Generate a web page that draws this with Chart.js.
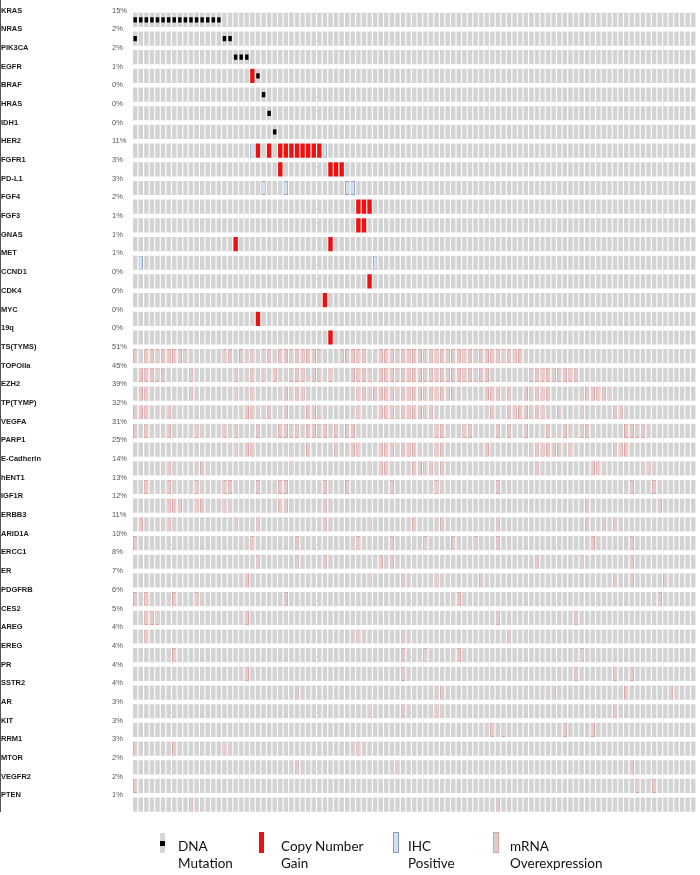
<!DOCTYPE html>
<html><head><meta charset="utf-8">
<script src="https://cdn.jsdelivr.net/npm/chart.js@4.4.0/dist/chart.umd.min.js"></script>
<style>
html,body{margin:0;padding:0;background:#fff;}
#wrap{position:relative;width:700px;height:875px;overflow:hidden;}
#c{position:absolute;left:0;top:0;}
.leg{position:absolute;font-family:Lato,'Open Sans',sans-serif;font-size:13.5px;line-height:17px;color:#111;white-space:nowrap;}
.ico{position:absolute;box-sizing:border-box;}
#vline{position:absolute;left:0;top:0;width:1px;height:812px;background:#555;}
</style></head><body>
<div id="wrap">
<canvas id="c" width="700" height="875"></canvas>
<div id="vline"></div>
<div class="ico" style="left:160px;top:833px;width:5px;height:20px;background:#d6d6d6;"><div style="position:absolute;left:0;top:8px;width:5px;height:5px;background:#000;"></div></div>
<div class="leg" style="left:178px;top:838px;">DNA<br>Mutation</div>
<div class="ico" style="left:259px;top:832px;width:5px;height:21px;background:#ee1111;"></div>
<div class="leg" style="left:281px;top:838px;">Copy Number<br>Gain</div>
<div class="ico" style="left:393px;top:832px;width:6px;height:21px;background:#d8dfe9;border:1px solid #7f9cc6;"></div>
<div class="leg" style="left:408px;top:838px;">IHC<br>Positive</div>
<div class="ico" style="left:493px;top:832px;width:6px;height:21px;background:#d6d0d0;border:1px solid #e4a0a0;"></div>
<div class="leg" style="left:510px;top:838px;">mRNA<br>Overexpression</div>
</div>
<script>
// ---------- data ----------
const nCols = 101; // number of samples (columns)
const genes = ['KRAS','NRAS','PIK3CA','EGFR','BRAF','HRAS','IDH1','HER2','FGFR1','PD-L1','FGF4','FGF3','GNAS','MET','CCND1','CDK4','MYC','19q','TS(TYMS)','TOPOIIa','EZH2','TP(TYMP)','VEGFA','PARP1','E-Cadherin','hENT1','IGF1R','ERBB3','ARID1A','ERCC1','ER','PDGFRB','CES2','AREG','EREG','PR','SSTR2','AR','KIT','RRM1','MTOR','VEGFR2','PTEN'];
const pcts = ['15%','2%','2%','1%','0%','0%','0%','11%','3%','3%','2%','1%','1%','1%','0%','0%','0%','0%','51%','45%','39%','32%','31%','25%','14%','13%','12%','11%','10%','8%','7%','6%','5%','4%','4%','4%','4%','3%','3%','3%','2%','2%','1%'];

// sample (column) indices, 0-based, per alteration type
const mutations = [
  ['KRAS',[0,1,2,3,4,5,6,7,8,9,10,11,12,13,14,15]],
  ['NRAS',[0,16,17]],
  ['PIK3CA',[18,19,20]],
  ['EGFR',[22]],
  ['BRAF',[23]],
  ['HRAS',[24]],
  ['IDH1',[25]]
];
const copyGain = [
  ['EGFR',[21]],
  ['HER2',[22,24,26,27,28,29,30,31,32,33]],
  ['FGFR1',[26,35,36,37]],
  ['FGF4',[40,41,42]],
  ['FGF3',[40,41]],
  ['GNAS',[18,35]],
  ['CCND1',[42]],
  ['CDK4',[34]],
  ['MYC',[22]],
  ['19q',[35]]
];
const ihcPositive = [
  ['HER2',[21,34]],
  ['PD-L1',[23,27,38,39]],
  ['MET',[1,43]]
];
const mrnaOver = [
  ['TS(TYMS)',[0,2,3,4,5,6,7,8,9,16,17,19,21,23,24,26,27,28,29,30,31,32,33,37,38,39,40,41,44,45,46,47,48,49,50,51,52,53,54,55,56,57,58,59,60,61,62,63,64,65,66,67,68,69]],
  ['TOPOIIa',[1,2,3,4,5,10,18,21,23,25,28,29,30,32,33,35,39,40,41,42,44,45,46,47,48,49,50,51,52,53,54,55,56,57,58,59,60,61,62,63,71,72,73,74,75,76,77,78,79]],
  ['EZH2',[1,2,10,18,21,27,28,29,30,40,41,42,43,44,45,46,47,48,49,50,51,52,53,54,55,56,57,63,64,65,66,67,70,71,72,73,74,80,81,82,83,84,85]],
  ['TP(TYMP)',[0,1,2,6,20,21,23,24,27,31,32,33,40,44,45,46,47,48,49,50,51,52,53,64,67,68,69,70,71,72,73,76,80,86,87]],
  ['VEGFA',[0,2,6,11,16,18,22,26,27,28,29,31,32,33,34,36,38,39,54,55,59,60,65,67,70,74,77,80,81,88,89,90,91]],
  ['PARP1',[18,20,21,28,31,36,39,40,44,45,46,47,48,49,50,54,55,63,71,72,73,74,75,76,78,86,87,88]],
  ['E-Cadherin',[6,12,28,42,44,45,50,51,52,53,55,72,82,83,92]],
  ['hENT1',[2,6,11,16,17,22,26,27,34,38,46,54,65,89,93]],
  ['IGF1R',[6,7,8,11,12,16,26,27,28,34,81,94]],
  ['ERBB3',[1,6,18,22,34,42,50,55,65,81,84,86]],
  ['ARID1A',[0,21,29,40,46,52,57,61,65,82,89]],
  ['ERCC1',[22,29,34,44,46,72,80,89]],
  ['ER',[20,42,48,54,62,86,89,95]],
  ['PDGFRB',[0,2,7,11,27,58,94]],
  ['CES2',[2,3,4,20,65,79]],
  ['AREG',[2,40,48,67,71]],
  ['EREG',[7,48,52,58,80]],
  ['PR',[20,48,79,86,89]],
  ['SSTR2',[29,55,75,88,96]],
  ['AR',[42,48,54,86]],
  ['KIT',[64,66,77,82]],
  ['RRM1',[0,7,16,40]],
  ['MTOR',[29,47,89]],
  ['VEGFR2',[0,90,93]],
  ['PTEN',[10,65]]
];

// ---------- build ----------
const FILL = {none:'#d3d3d3', gain:'#ee1111', ihc:'#d8dfe9', mrna:'#d6d0d0'};
const EDGE = {none:'rgba(0,0,0,0)', gain:'rgba(0,0,0,0)', ihc:'#8aa5cc', mrna:'#e3a0a0'};
const cellType = genes.map(() => new Array(nCols).fill('none'));
function mark(list, t){ list.forEach(([g, cols]) => { const r = genes.indexOf(g); cols.forEach(c => { cellType[r][c] = t; }); }); }
mark(mrnaOver, 'mrna'); mark(ihcPositive, 'ihc'); mark(copyGain, 'gain');

const datasets = [];
genes.forEach((g, r) => {
  const types = cellType[r];
  datasets.push({
    label: g,
    data: types.map(() => [r + 0.12, r + 0.88]),
    backgroundColor: types.map(t => FILL[t]),
    borderColor: types.map(t => EDGE[t]),
    borderWidth: types.map(t => (t === 'ihc' || t === 'mrna') ? 1 : 0),
    borderSkipped: false, grouped: false, inflateAmount: 0,
    barPercentage: 0.8, categoryPercentage: 1, order: 2
  });
});
mutations.forEach(([g, cols]) => {
  const r = genes.indexOf(g);
  datasets.push({
    label: g + ' mutation',
    data: Array.from({length: nCols}, (_, c) => cols.includes(c) ? [r + 0.36, r + 0.64] : null),
    backgroundColor: '#000', borderWidth: 0, borderSkipped: false, grouped: false, inflateAmount: 0,
    barPercentage: 0.62, categoryPercentage: 1, order: 1
  });
});

const rowTicks = s => { s.ticks = genes.map((_, i) => ({value: i})); };
new Chart(document.getElementById('c'), {
  type: 'bar',
  data: { labels: Array.from({length: nCols}, (_, i) => 'S' + (i + 1)), datasets },
  options: {
    responsive: false, animation: false, devicePixelRatio: 1,
    layout: { padding: { left: 1, right: 4, top: 10.5, bottom: 61 } },
    plugins: { legend: { display: false }, tooltip: { enabled: false } },
    scales: {
      x: { type: 'category', display: false },
      y: {
        type: 'linear', position: 'left', weight: 2, min: 0, max: 43, reverse: true,
        grid: { display: false, drawTicks: false }, border: { display: false },
        afterBuildTicks: rowTicks,
        afterFit: s => { s.width = 111; },
        ticks: { autoSkip: false, crossAlign: 'far', padding: 0, color: '#1a1a1a',
          font: { family: "'Liberation Sans', Arial, sans-serif", size: 7.5, weight: 'bold' },
          callback: v => genes[v] }
      },
      yPct: {
        type: 'linear', position: 'left', weight: 1, min: 0, max: 43, reverse: true,
        grid: { display: false, drawTicks: false }, border: { display: false },
        afterBuildTicks: rowTicks,
        afterFit: s => { s.width = 20.4; },
        ticks: { autoSkip: false, crossAlign: 'far', padding: 0, color: '#555',
          font: { family: "'Liberation Sans', Arial, sans-serif", size: 7.5 },
          callback: v => pcts[v] }
      }
    }
  }
});
</script>
</body></html>
